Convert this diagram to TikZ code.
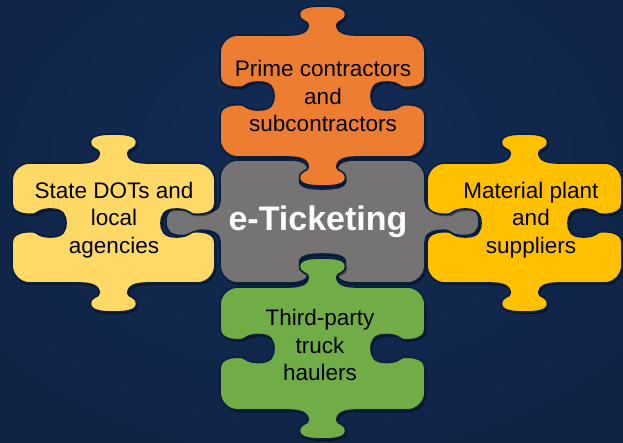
\documentclass[tikz,border=0pt]{standalone}
\usepackage{fontspec}
\setmainfont{Liberation Sans}
\usetikzlibrary{shadows}
\definecolor{bgin}{HTML}{132C55}
\definecolor{bgout}{HTML}{0A1931}
\definecolor{edgec}{HTML}{0A1E3E}
\definecolor{orangeP}{HTML}{ED7D31}
\definecolor{yellowP}{HTML}{FFD966}
\definecolor{amberP}{HTML}{FFC000}
\definecolor{greenP}{HTML}{70AD47}
\definecolor{grayP}{HTML}{757373}
\pgfdeclareradialshading{bgrad}{\pgfpoint{0bp}{10bp}}{color(0bp)=(bgin); color(75bp)=(bgout)}
\def\VW{23}\def\VL{29}\def\HW{14}\def\HL{54}\def\R{18}
\tikzset{
  knob/.style n args={8}{insert path={
    -- ({#1+(-1.45)*#7*(#3)+(0)*#8*(#5)},{#2+(-1.45)*#7*(#4)+(0)*#8*(#6)})
    .. controls ({#1+(-0.95)*#7*(#3)+(0)*#8*(#5)},{#2+(-0.95)*#7*(#4)+(0)*#8*(#6)})
       and ({#1+(-0.62)*#7*(#3)+(0.1)*#8*(#5)},{#2+(-0.62)*#7*(#4)+(0.1)*#8*(#6)})
    .. ({#1+(-0.62)*#7*(#3)+(0.35)*#8*(#5)},{#2+(-0.62)*#7*(#4)+(0.35)*#8*(#6)})
    .. controls ({#1+(-0.62)*#7*(#3)+(0.5)*#8*(#5)},{#2+(-0.62)*#7*(#4)+(0.5)*#8*(#6)})
       and ({#1+(-1)*#7*(#3)+(0.45)*#8*(#5)},{#2+(-1)*#7*(#4)+(0.45)*#8*(#6)})
    .. ({#1+(-1)*#7*(#3)+(0.72)*#8*(#5)},{#2+(-1)*#7*(#4)+(0.72)*#8*(#6)})
    .. controls ({#1+(-1)*#7*(#3)+(0.95)*#8*(#5)},{#2+(-1)*#7*(#4)+(0.95)*#8*(#6)})
       and ({#1+(-0.55)*#7*(#3)+(1)*#8*(#5)},{#2+(-0.55)*#7*(#4)+(1)*#8*(#6)})
    .. ({#1+(0)*#7*(#3)+(1)*#8*(#5)},{#2+(0)*#7*(#4)+(1)*#8*(#6)})
    .. controls ({#1+(0.55)*#7*(#3)+(1)*#8*(#5)},{#2+(0.55)*#7*(#4)+(1)*#8*(#6)})
       and ({#1+(1)*#7*(#3)+(0.95)*#8*(#5)},{#2+(1)*#7*(#4)+(0.95)*#8*(#6)})
    .. ({#1+(1)*#7*(#3)+(0.72)*#8*(#5)},{#2+(1)*#7*(#4)+(0.72)*#8*(#6)})
    .. controls ({#1+(1)*#7*(#3)+(0.45)*#8*(#5)},{#2+(1)*#7*(#4)+(0.45)*#8*(#6)})
       and ({#1+(0.62)*#7*(#3)+(0.5)*#8*(#5)},{#2+(0.62)*#7*(#4)+(0.5)*#8*(#6)})
    .. ({#1+(0.62)*#7*(#3)+(0.35)*#8*(#5)},{#2+(0.62)*#7*(#4)+(0.35)*#8*(#6)})
    .. controls ({#1+(0.62)*#7*(#3)+(0.1)*#8*(#5)},{#2+(0.62)*#7*(#4)+(0.1)*#8*(#6)})
       and ({#1+(0.95)*#7*(#3)+(0)*#8*(#5)},{#2+(0.95)*#7*(#4)+(0)*#8*(#6)})
    .. ({#1+(1.45)*#7*(#3)+(0)*#8*(#5)},{#2+(1.45)*#7*(#4)+(0)*#8*(#6)})
  }},
  kT/.style n args={3}{knob={#1}{#2}{1}{0}{0}{-(#3)}{\VW}{\VL}},
  kR/.style n args={3}{knob={#1}{#2}{0}{1}{#3}{0}{\HW}{\HL}},
  kB/.style n args={3}{knob={#1}{#2}{-1}{0}{0}{#3}{\VW}{\VL}},
  kL/.style n args={3}{knob={#1}{#2}{0}{-1}{-(#3)}{0}{\HW}{\HL}},
  piece/.style n args={8}{insert path={
    ({#1},{#2+\R}) .. controls ({#1},{#2+0.45*\R}) and ({#1+0.45*\R},{#2}) .. ({#1+\R},{#2})
    [kT={(#1+#3)/2}{#2}{#5}]
    -- ({#3-\R},{#2}) .. controls ({#3-0.45*\R},{#2}) and ({#3},{#2+0.45*\R}) .. ({#3},{#2+\R})
    [kR={#3}{(#2+#4)/2}{#6}]
    -- ({#3},{#4-\R}) .. controls ({#3},{#4-0.45*\R}) and ({#3-0.45*\R},{#4}) .. ({#3-\R},{#4})
    [kB={(#1+#3)/2}{#4}{#7}]
    -- ({#1+\R},{#4}) .. controls ({#1+0.45*\R},{#4}) and ({#1},{#4-0.45*\R}) .. ({#1},{#4-\R})
    [kL={#1}{(#2+#4)/2}{#8}]
    -- cycle}},
  pz/.style={draw=edgec, line width=1.6pt, line join=round,
    drop shadow={shadow xshift=1.5pt, shadow yshift=-2pt, opacity=0.45, fill=black}},
  lbl/.style={align=center, text=black, font=\fontsize{22.5}{27.5}\selectfont},
  hub/.style={text=white, font=\fontsize{34}{40}\selectfont\bfseries}
}
\begin{document}
\begin{tikzpicture}[x=1pt, y=-1pt]
\useasboundingbox (0,0) rectangle (623,443);
\shade[shading=bgrad] (0,0) rectangle (623,443);
% pieces
\path[pz, fill=grayP]   [piece={220}{160}{425}{283}{-1}{1}{-1}{1}];
\path[pz, fill=orangeP] [piece={220}{35}{425}{157}{1}{-1}{1}{-1}];
\path[pz, fill=greenP]  [piece={220}{287}{425}{410}{1}{-1}{1}{-1}];
\path[pz, fill=yellowP] [piece={12}{163}{215}{283}{1}{-1}{1}{-1}];
\path[pz, fill=amberP]  [piece={427}{163}{622}{283}{1}{-1}{1}{-1}];
% labels
\node[lbl] (prime) at (323,96) {Prime contractors\\and\\subcontractors};
\node[lbl] (state) at (114,220) {State DOTs and\\local\\agencies};
\node[lbl] (plant) at (531,220) {Material plant\\and\\suppliers};
\node[lbl] (truck) at (320,345) {Third-party\\truck\\haulers};
\node[hub] (etk) at (318,222) {e-Ticketing};
\end{tikzpicture}
\end{document}
